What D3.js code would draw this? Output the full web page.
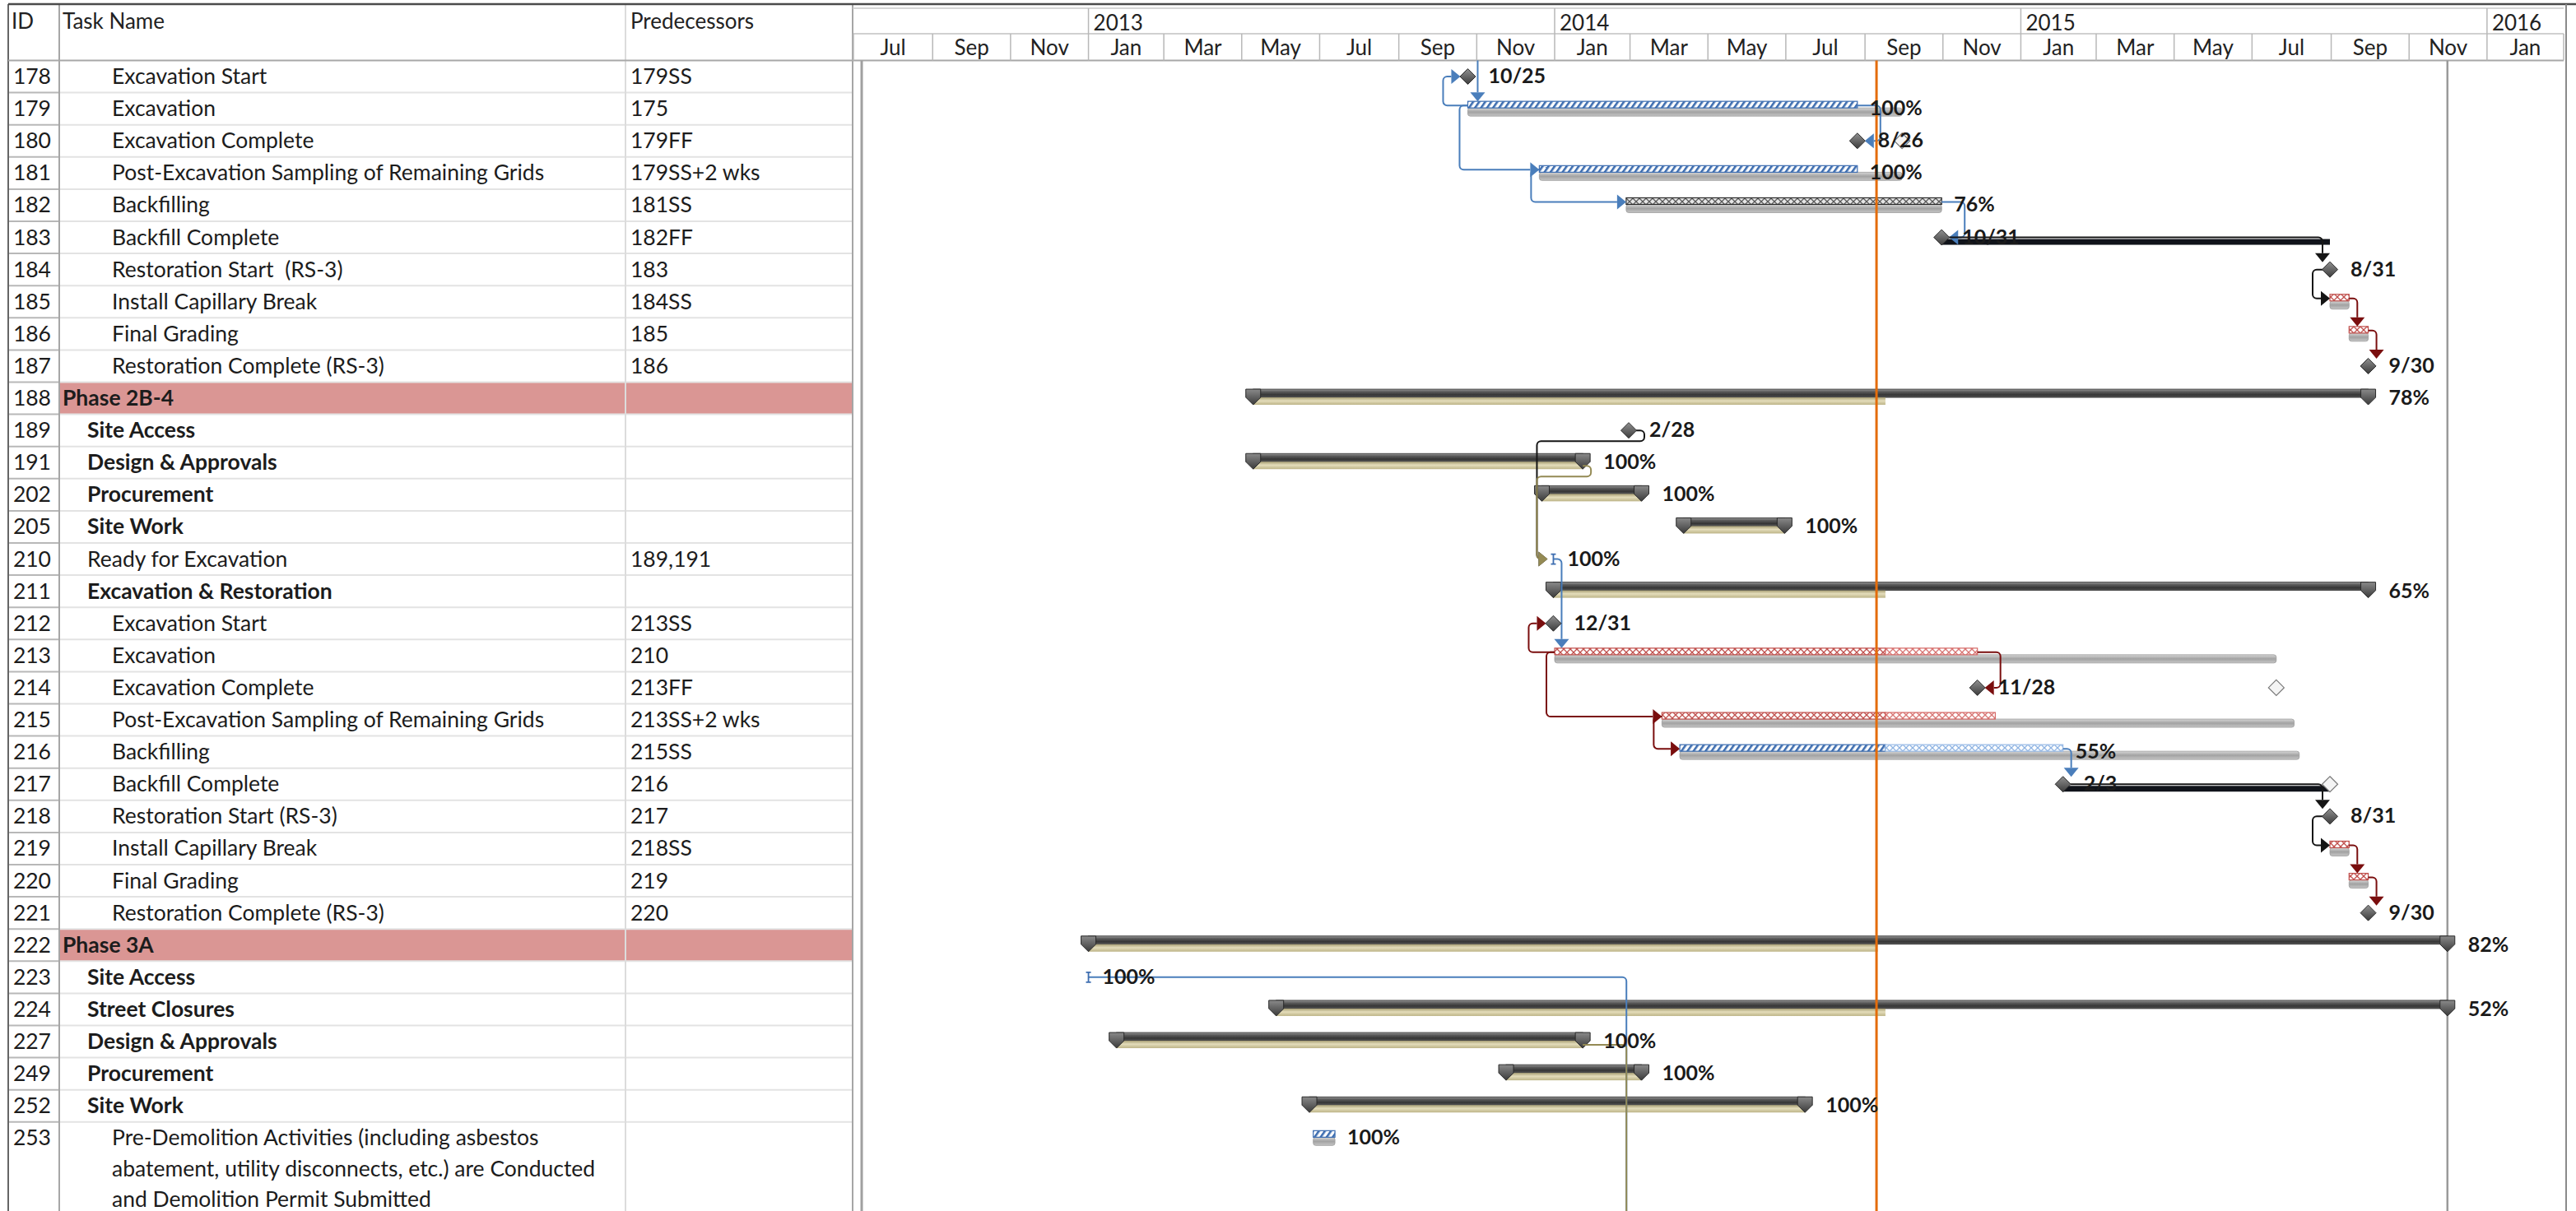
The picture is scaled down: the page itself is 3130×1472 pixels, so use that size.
<!DOCTYPE html>
<html lang="en">
<head>
  <meta charset="UTF-8">
  <title>Project Schedule - Tracking Gantt</title>
  <script src="https://d3js.org/d3.v7.min.js"></script>
  <style>
    body { margin: 0; background: #fff; }
    svg { display: block; font-family: Lato, "Open Sans", sans-serif; }
  </style>
</head>
<body>
  <svg width="3130" height="1472"></svg>

  <script>
    // ---- table rows ----
    const rowIds = ["178","179","180","181","182","183","184","185","186","187","188","189","191","202","205","210","211",
      "212","213","214","215","216","217","218","219","220","221","222","223","224","227","249","252","253"];
    const taskNames = ["Excavation Start","Excavation","Excavation Complete","Post-Excavation Sampling of Remaining Grids",
      "Backfilling","Backfill Complete","Restoration Start  (RS-3)","Install Capillary Break","Final Grading",
      "Restoration Complete (RS-3)","Phase 2B-4","Site Access","Design & Approvals","Procurement","Site Work",
      "Ready for Excavation","Excavation & Restoration","Excavation Start","Excavation","Excavation Complete",
      "Post-Excavation Sampling of Remaining Grids","Backfilling","Backfill Complete","Restoration Start (RS-3)",
      "Install Capillary Break","Final Grading","Restoration Complete (RS-3)","Phase 3A","Site Access","Street Closures",
      "Design & Approvals","Procurement","Site Work",
      "Pre-Demolition Activities (including asbestos\nabatement, utility disconnects, etc.) are Conducted\nand Demolition Permit Submitted"];
    const outlineLevel = [2,2,2,2,2,2,2,2,2,2,0,1,1,1,1,1,1,2,2,2,2,2,2,2,2,2,2,0,1,1,1,1,1,2];
    const predecessors = ["179SS","175","179FF","179SS+2 wks","181SS","182FF","183","184SS","185","186",
      "","","","","","189,191","","213SS","210","213FF","213SS+2 wks","215SS","216","217","218SS","219","220",
      "","","","","","",""];
    const summaryRows = ["188","189","191","202","205","211","222","223","224","227","249","252"];
    const phaseRows = ["188","222"];

    // ---- timescale ----
    const timelineStart = "2012-07-01";
    const timelineEnd = "2016-03-01";
    const statusDate = "2014-09-10";
    const projectFinish = "2015-12-01";

    // ---- gantt data ----
    // [row, start, finish, state]
    const taskBars = [
      ["179","2013-10-25","2014-08-26","complete"],
      ["181","2013-12-20","2014-08-26","complete"],
      ["182","2014-02-26","2014-10-31","inprogress"],
      ["185","2015-08-31","2015-09-15","critical"],
      ["186","2015-09-15","2015-09-30","critical"],
      ["213","2014-01-01","2014-09-17","critical"],
      ["213","2014-09-17","2014-11-28","criticalRemaining"],
      ["215","2014-03-26","2014-09-17","critical"],
      ["215","2014-09-17","2014-12-12","criticalRemaining"],
      ["216","2014-04-09","2014-09-17","complete"],
      ["216","2014-09-17","2015-02-03","remaining"],
      ["219","2015-08-31","2015-09-15","critical"],
      ["220","2015-09-15","2015-09-30","critical"],
      ["253","2013-06-26","2013-07-13","complete"]
    ];
    // [row, baseline start, baseline finish]
    const baselineBars = [
      ["179","2013-10-25","2014-09-30"],
      ["181","2013-12-20","2014-09-30"],
      ["182","2014-02-26","2014-10-31"],
      ["185","2015-08-31","2015-09-15"],
      ["186","2015-09-15","2015-09-30"],
      ["213","2014-01-01","2015-07-20"],
      ["215","2014-03-26","2015-08-03"],
      ["216","2014-04-09","2015-08-07"],
      ["219","2015-08-31","2015-09-15"],
      ["220","2015-09-15","2015-09-30"],
      ["253","2013-06-26","2013-07-13"]
    ];
    const milestones = [
      ["178","2013-10-25"],["180","2014-08-26"],["183","2014-10-31"],["184","2015-08-31"],["187","2015-09-30"],
      ["189","2014-02-28"],["212","2013-12-31"],["214","2014-11-28"],["217","2015-02-03"],["218","2015-08-31"],
      ["221","2015-09-30"]
    ];
    const baselineMilestones = [["180","2014-09-30"],["214","2015-07-20"],["217","2015-08-31"]];
    const slackBars = [["183","2014-10-31","2015-08-31"],["217","2015-02-03","2015-08-31"]];
    // [row, start, finish, progress through]
    const summaryBars = [
      ["188","2013-05-10","2015-09-30","2014-09-17"],
      ["191","2013-05-10","2014-01-23","2014-01-23"],
      ["202","2013-12-22","2014-03-10","2014-03-10"],
      ["205","2014-04-12","2014-06-30","2014-06-30"],
      ["211","2013-12-31","2015-09-30","2014-09-17"],
      ["222","2013-01-01","2015-12-01","2014-09-11"],
      ["224","2013-05-28","2015-12-01","2014-09-17"],
      ["227","2013-01-23","2014-01-23","2014-01-23"],
      ["249","2013-11-24","2014-03-10","2014-03-10"],
      ["252","2013-06-23","2014-07-16","2014-07-16"]
    ];
    const zeroTasks = [["210","2013-12-31"],["223","2013-01-01"]];
    const offPageTasks = [["254","2014-03-04"]];
    const percentLabels = [
      ["179","100%"],["181","100%"],["182","76%"],["188","78%"],["191","100%"],["202","100%"],["205","100%"],
      ["210","100%"],["211","65%"],["216","55%"],["222","82%"],["223","100%"],["224","52%"],["227","100%"],
      ["249","100%"],["252","100%"],["253","100%"]
    ];
    // [from, to, type, class]
    const links = [
      ["175","179","FS","normal"],
      ["179","178","SS","normal"],
      ["179","181","SS","normal"],
      ["179","180","FF","normal"],
      ["181","182","SS","normal"],
      ["182","183","FF","normal"],
      ["183","184","FS","driving"],
      ["184","185","SS","driving"],
      ["185","186","FS","critical"],
      ["186","187","FS","critical"],
      ["189","210","FS","driving"],
      ["210","213","FS","normal"],
      ["213","212","SS","critical"],
      ["213","214","FF","critical"],
      ["213","215","SS","critical"],
      ["215","216","SS","critical"],
      ["216","217","FS","normal"],
      ["217","218","FS","driving"],
      ["218","219","SS","driving"],
      ["219","220","FS","critical"],
      ["220","221","FS","critical"],
      ["223","254","FS","normal"],
      ["191","210","FS","summary"],
      ["227","254","FS","summary"]
    ];

    // ---- layout ----
    const W = 3130, H = 1472;
    const HEAD = 73.5, ROW = 39.1;
    const colId = 72, colName = 760, colPred = 1036, left = 10;
    const parse = d3.timeParse("%Y-%m-%d");
    const fmtMilestone = d3.timeFormat("%-m/%-d");

    const x = d3.scaleTime()
        .domain([parse(timelineStart), parse(timelineEnd)])
        .range([1037, 3115]);
    const y = d3.scaleBand()
        .domain(rowIds)
        .range([HEAD, HEAD + ROW * rowIds.length]);
    const cy = id => y(id) + ROW / 2;
    const xd = s => x(parse(s));

    const svg = d3.select("svg");
    svg.append("rect").attr("width", W).attr("height", H).attr("fill", "#fff");
    const defs = svg.append("defs");

    function vGrad(id, stops) {
      const g = defs.append("linearGradient").attr("id", id)
          .attr("x1", 0).attr("x2", 0).attr("y1", 0).attr("y2", 1);
      stops.forEach(([o, c]) => g.append("stop").attr("offset", o).attr("stop-color", c));
    }
    vGrad("sumGrad", [[0, "#9a9a9a"], [0.3, "#5c5c5c"], [0.7, "#353535"], [1, "#5a5a5a"]]);
    vGrad("capGrad", [[0, "#8a8a8a"], [1, "#3a3a3a"]]);
    vGrad("tanGrad", [[0, "#a89f74"], [0.45, "#e4ddbb"], [1, "#bdb487"]]);
    vGrad("barGrad", [[0, "#d6d6d6"], [0.5, "#a2a2a2"], [1, "#c6c6c6"]]);
    vGrad("diaGrad", [[0, "#909090"], [1, "#3c3c3c"]]);

    function crossPattern(id, bg, stroke) {
      const p = defs.append("pattern").attr("id", id).attr("patternUnits", "userSpaceOnUse")
          .attr("width", 8).attr("height", 8).attr("y", 1);
      p.append("rect").attr("width", 8).attr("height", 8).attr("fill", bg);
      p.append("path").attr("d", "M0,0L8,8M8,0L0,8").attr("stroke", stroke).attr("stroke-width", 1.3);
    }
    function diagPattern(id, bg, stroke) {
      const p = defs.append("pattern").attr("id", id).attr("patternUnits", "userSpaceOnUse")
          .attr("width", 6).attr("height", 6).attr("patternTransform", "rotate(35)");
      p.append("rect").attr("width", 6).attr("height", 6).attr("fill", bg);
      p.append("rect").attr("width", 2.6).attr("height", 6).attr("fill", stroke);
    }
    diagPattern("diagBlue", "#fff", "#3d6db0");
    crossPattern("crossLightBlue", "#fff", "#8fb4e3");
    crossPattern("crossGray", "#e6e6e6", "#5a5a5a");
    crossPattern("crossRed", "#fff", "#c0504d");
    crossPattern("crossRedLight", "#fff", "#d87573");

    const barStyle = {
      complete: { fill: "url(#diagBlue)", stroke: "#3d6db0" },
      remaining: { fill: "url(#crossLightBlue)", stroke: "#9bbce6" },
      inprogress: { fill: "url(#crossGray)", stroke: "#2a2a2a" },
      critical: { fill: "url(#crossRed)", stroke: "#c0504d" },
      criticalRemaining: { fill: "url(#crossRedLight)", stroke: "#d66a68" }
    };
    const linkColor = { normal: "#4a7ebb", critical: "#7a0e0e", driving: "#151515", summary: "#948a54" };

    // ---------- table ----------
    const table = svg.append("g");
    table.selectAll(".phase").data(phaseRows).join("rect")
        .attr("x", colId).attr("y", d => y(d))
        .attr("width", colPred - colId).attr("height", ROW)
        .attr("fill", "#da9694");

    const rowLines = rowIds.slice(0, -1);
    table.selectAll(".rlid").data(rowLines).join("line")
        .attr("x1", left).attr("x2", colId)
        .attr("y1", d => y(d) + ROW).attr("y2", d => y(d) + ROW)
        .attr("stroke", "#b8b8b8").attr("stroke-width", 2);
    table.selectAll(".rlname").data(rowLines).join("line")
        .attr("x1", colId).attr("x2", colPred)
        .attr("y1", d => y(d) + ROW).attr("y2", d => y(d) + ROW)
        .attr("stroke", "#e3e3e3").attr("stroke-width", 2);

    // column rules
    [[left, "#666", 2], [colId, "#a6a6a6", 2], [colName, "#dcdcdc", 2], [colPred, "#a6a6a6", 2]]
      .forEach(([cx, c, w]) => table.append("line")
        .attr("x1", cx).attr("x2", cx).attr("y1", 5).attr("y2", H)
        .attr("stroke", c).attr("stroke-width", w));

    // header texts
    const hdr = svg.append("g").attr("font-size", 26).attr("fill", "#222");
    hdr.append("text").attr("x", 14).attr("y", 35).text("ID");
    hdr.append("text").attr("x", 76).attr("y", 35).text("Task Name");
    hdr.append("text").attr("x", 766).attr("y", 35).text("Predecessors");

    const rowsG = table.selectAll(".row").data(rowIds).join("g")
        .attr("font-size", 26.5).attr("fill", "#1c1c1c");
    rowsG.append("text")
        .attr("x", 62).attr("y", d => cy(d) + 9)
        .attr("text-anchor", "end")
        .text(d => d);
    rowsG.append("text")
        .attr("y", d => cy(d) + 9)
        .attr("font-weight", d => summaryRows.includes(d) ? 700 : 400)
        .style("white-space", "pre")
        .each(function(d, i) {
          const lines = taskNames[i].split("\n");
          const tx = 76 + outlineLevel[i] * 30;
          d3.select(this).selectAll("tspan").data(lines).join("tspan")
              .attr("x", tx).attr("dy", (l, j) => j === 0 ? 0 : 37.5)
              .text(l => l);
        });
    rowsG.append("text")
        .attr("x", 766).attr("y", d => cy(d) + 9)
        .text((d, i) => predecessors[i]);

    // ---------- timescale header ----------
    const [t0, t1] = x.domain();
    const tl = svg.append("g").attr("font-size", 26).attr("fill", "#222");
    tl.append("line").attr("x1", left).attr("x2", W).attr("y1", 5).attr("y2", 5)
        .attr("stroke", "#4a4a4a").attr("stroke-width", 2.5);
    tl.append("line").attr("x1", colPred).attr("x2", x(t1)).attr("y1", 10).attr("y2", 10)
        .attr("stroke", "#c8c8c8").attr("stroke-width", 1.5);
    tl.append("line").attr("x1", x(t0)).attr("x2", x(t1)).attr("y1", 41).attr("y2", 41)
        .attr("stroke", "#c0c0c0").attr("stroke-width", 1.5);
    tl.append("line").attr("x1", left).attr("x2", x(t1)).attr("y1", HEAD).attr("y2", HEAD)
        .attr("stroke", "#a8a8a8").attr("stroke-width", 2);

    const years = d3.timeYear.range(d3.timeYear.ceil(t0), t1);
    tl.selectAll(".yl").data(years).join("line")
        .attr("x1", d => x(d)).attr("x2", d => x(d)).attr("y1", 10).attr("y2", 41)
        .attr("stroke", "#b8b8b8").attr("stroke-width", 1.5);
    tl.selectAll(".yt").data(years).join("text")
        .attr("x", d => x(d) + 6).attr("y", 37)
        .text(d3.timeFormat("%Y"));

    const months = d3.timeMonth.every(2).range(t0, t1);
    tl.selectAll(".ml").data(months.concat([t1])).join("line")
        .attr("x1", d => x(d)).attr("x2", d => x(d)).attr("y1", 41).attr("y2", HEAD)
        .attr("stroke", "#b8b8b8").attr("stroke-width", 1.5);
    tl.selectAll(".mt").data(months).join("text")
        .attr("x", (d, i) => (x(d) + x(months[i + 1] || t1)) / 2).attr("y", 67)
        .attr("text-anchor", "middle")
        .text(d3.timeFormat("%b"));

    // chart frame lines
    const chart = svg.append("g");
    chart.append("line").attr("x1", 1047).attr("x2", 1047).attr("y1", HEAD).attr("y2", H)
        .attr("stroke", "#a0a0a0").attr("stroke-width", 3);
    chart.append("line").attr("x1", x(t1) + 3).attr("x2", x(t1) + 3).attr("y1", 5).attr("y2", H)
        .attr("stroke", "#8a8a8a").attr("stroke-width", 2);
    chart.append("line").attr("x1", xd(projectFinish)).attr("x2", xd(projectFinish))
        .attr("y1", HEAD).attr("y2", H)
        .attr("stroke", "#9a9a9a").attr("stroke-width", 2.5);

    // ---------- geometry lookup ----------
    const geom = {};
    function addGeom(id, s, e, kind) {
      const g = geom[id];
      if (!g) geom[id] = { s, e, kind };
      else { g.s = Math.min(g.s, s); g.e = Math.max(g.e, e); }
    }
    taskBars.forEach(([id, s, f]) => addGeom(id, xd(s), xd(f), "bar"));
    milestones.forEach(([id, d]) => addGeom(id, xd(d), xd(d), "milestone"));
    summaryBars.forEach(([id, s, f]) => addGeom(id, xd(s), xd(f), "summary"));
    zeroTasks.forEach(([id, d]) => addGeom(id, xd(d), xd(d), "zero"));
    offPageTasks.forEach(([id, d]) => addGeom(id, xd(d), xd(d), "offpage"));

    function exitEnd(id) {
      const g = geom[id];
      if (g.kind === "milestone") return [g.e + 9, cy(id)];
      if (g.kind === "summary") return [g.e, cy(id) + 4];
      if (g.kind === "zero") return [g.e, cy(id)];
      return [g.e, cy(id) - 4];
    }
    function exitStart(id) {
      const g = geom[id];
      if (g.kind === "milestone") return [g.s - 9, cy(id)];
      return [g.s, cy(id) - 4];
    }
    const entryY = id => geom[id].kind === "bar" ? cy(id) - 4 : cy(id);
    function leadIn(id) {
      const g = geom[id];
      return g.kind === "milestone" ? g.s - 9 : g.kind === "zero" ? g.s - 7 : g.s;
    }
    const leadOut = id => geom[id].kind === "milestone" ? geom[id].e + 9 : geom[id].e;

    function rounded(pts, r = 5) {
      const p = d3.path();
      p.moveTo(pts[0][0], pts[0][1]);
      for (let i = 1; i < pts.length - 1; i++) {
        p.arcTo(pts[i][0], pts[i][1], pts[i + 1][0], pts[i + 1][1], r);
      }
      const last = pts[pts.length - 1];
      p.lineTo(last[0], last[1]);
      return p.toString();
    }
    function arrowPath(tx, ty, dir) {
      const d = 11, h = 9;
      if (dir === "down") return `M${tx},${ty}L${tx - h},${ty - d}L${tx + h},${ty - d}Z`;
      if (dir === "right") return `M${tx},${ty}L${tx - d},${ty - h}L${tx - d},${ty + h}Z`;
      return `M${tx},${ty}L${tx + d},${ty - h}L${tx + d},${ty + h}Z`;
    }

    // ---------- bars ----------
    const bars = svg.append("g");
    bars.selectAll(".slack").data(slackBars).join("rect")
        .attr("x", d => xd(d[1])).attr("y", d => cy(d[0]) + 2)
        .attr("width", d => xd(d[2]) - xd(d[1])).attr("height", 7)
        .attr("fill", "#10131a");

    bars.selectAll(".base").data(baselineBars).join("rect")
        .attr("x", d => xd(d[1])).attr("y", d => cy(d[0]) - 1)
        .attr("width", d => xd(d[2]) - xd(d[1])).attr("height", 10)
        .attr("rx", 3)
        .attr("fill", "url(#barGrad)").attr("stroke", "#9c9c9c").attr("stroke-width", 0.8);

    bars.selectAll(".task").data(taskBars).join("rect")
        .attr("x", d => xd(d[1])).attr("y", d => cy(d[0]) - 9)
        .attr("width", d => xd(d[2]) - xd(d[1])).attr("height", 8)
        .attr("fill", d => barStyle[d[3]].fill)
        .attr("stroke", d => barStyle[d[3]].stroke).attr("stroke-width", 1.2);

    // summaries
    const sum = svg.append("g");
    sum.selectAll(".sbar").data(summaryBars).join("rect")
        .attr("x", d => xd(d[1])).attr("y", d => cy(d[0]) - 11)
        .attr("width", d => xd(d[2]) - xd(d[1])).attr("height", 10)
        .attr("fill", "url(#sumGrad)").attr("stroke", "#2e2e2e").attr("stroke-width", 0.8);
    sum.selectAll(".tan").data(summaryBars).join("rect")
        .attr("x", d => xd(d[1])).attr("y", d => cy(d[0]) - 1)
        .attr("width", d => xd(d[3]) - xd(d[1])).attr("height", 9)
        .attr("fill", "url(#tanGrad)");
    const caps = summaryBars.flatMap(d => [[d[0], d[1]], [d[0], d[2]]]);
    sum.selectAll(".cap").data(caps).join("path")
        .attr("d", d => {
          const cx = xd(d[1]), c = cy(d[0]);
          return `M${cx - 9},${c - 11}H${cx + 9}V${c - 1}L${cx},${c + 8}L${cx - 9},${c - 1}Z`;
        })
        .attr("fill", "url(#capGrad)").attr("stroke", "#2a2a2a").attr("stroke-width", 1);

    // ---------- links ----------
    const linkG = svg.append("g").attr("fill", "none").attr("stroke-width", 2);
    links.forEach(([from, to, type, cls]) => {
      const color = linkColor[cls];
      let pts, arrow = null;
      const fromAbove = !geom[from] && +from < +rowIds[0];
      const toBelow = geom[to] && geom[to].kind === "offpage";
      if (fromAbove) {
        const xv = geom[to].s + 12;
        pts = [[xv, HEAD], [xv, cy(to) - 20]];
        arrow = [xv, cy(to) - 9, "down"];
      } else if (type === "SS") {
        const [x1, y1] = exitStart(from);
        const tip = leadIn(to), ey = entryY(to);
        const xv = Math.min(x1, tip - 11) - 10;
        pts = [[x1, y1], [xv, y1], [xv, ey], [tip - 11, ey]];
        arrow = [tip, ey, "right"];
      } else if (type === "FF") {
        const [x1, y1] = exitEnd(from);
        const tip = leadOut(to), ey = entryY(to);
        const xv = Math.max(x1, tip + 11) + 8;
        pts = [[x1, y1], [xv, y1], [xv, ey], [tip + 11, ey]];
        arrow = [tip, ey, "left"];
      } else {
        const [x1, y1] = exitEnd(from);
        const g = geom[to];
        const xv = Math.max(x1 + 10, g.s - 9);
        if (toBelow) {
          pts = [[x1, y1], [xv, y1], [xv, H + 10]];
        } else if (xv <= (g.kind === "bar" || g.kind === "summary" ? g.e : g.s + 12)) {
          pts = [[x1, y1], [xv, y1], [xv, cy(to) - 20]];
          arrow = [xv, cy(to) - 9, "down"];
        } else {
          const tip = leadIn(to), ey = entryY(to);
          const ym = y1 + 13, xb = tip - 13;
          pts = [[x1, y1], [x1 + 10, y1], [x1 + 10, ym], [xb, ym], [xb, ey], [tip - 11, ey]];
          arrow = [tip, ey, "right"];
        }
      }
      linkG.append("path").attr("d", rounded(pts)).attr("stroke", color);
      if (arrow) {
        linkG.append("path").attr("d", arrowPath(...arrow))
            .attr("fill", color).attr("stroke", "none");
      }
    });

    // ---------- milestones ----------
    const diamond = (cx, c) => `M${cx},${c - 9.5}L${cx + 9.5},${c}L${cx},${c + 9.5}L${cx - 9.5},${c}Z`;
    const ms = svg.append("g");
    ms.selectAll(".bm").data(baselineMilestones).join("path")
        .attr("d", d => diamond(xd(d[1]), cy(d[0])))
        .attr("fill", "#f4f4f4").attr("stroke", "#7a7a7a").attr("stroke-width", 1.2);
    ms.selectAll(".m").data(milestones).join("path")
        .attr("d", d => diamond(xd(d[1]), cy(d[0])))
        .attr("fill", "url(#diaGrad)").attr("stroke", "#2c2c2c").attr("stroke-width", 1);
    ms.selectAll(".z").data(zeroTasks).join("path")
        .attr("d", d => {
          const zx = xd(d[1]), c = cy(d[0]);
          return `M${zx - 3},${c - 6}H${zx + 3}M${zx},${c - 6}V${c + 6}M${zx - 3},${c + 6}H${zx + 3}`;
        })
        .attr("fill", "none").attr("stroke", "#3d6db0").attr("stroke-width", 1.8);

    // status date line
    svg.append("line")
        .attr("x1", xd(statusDate)).attr("x2", xd(statusDate))
        .attr("y1", HEAD).attr("y2", H)
        .attr("stroke", "#e46c0a").attr("stroke-width", 3);

    // ---------- labels ----------
    function labelX(id) {
      const g = geom[id];
      if (g.kind === "milestone") return g.s + 25;
      if (g.kind === "summary") return g.e + 25;
      if (g.kind === "zero") return g.s + 17;
      return g.e + 15;
    }
    const labels = percentLabels.concat(milestones.map(d => [d[0], fmtMilestone(parse(d[1]))]));
    svg.append("g").attr("font-size", 25).attr("font-weight", 700).attr("fill", "#1a1a1a")
      .selectAll("text").data(labels).join("text")
        .attr("x", d => labelX(d[0])).attr("y", d => cy(d[0]) + 8)
        .text(d => d[1]);
  </script>
</body>
</html>
